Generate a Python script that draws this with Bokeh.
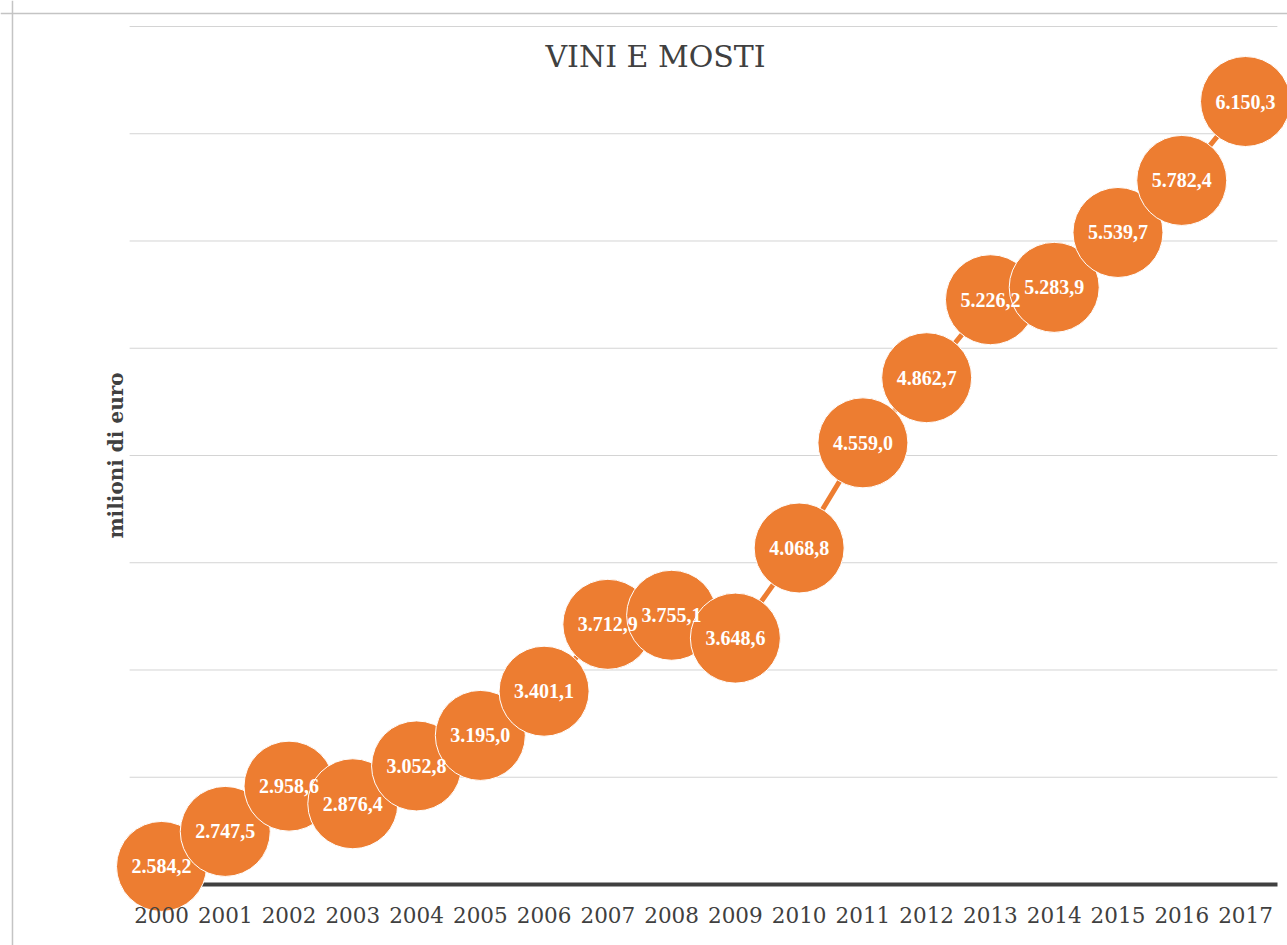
import math
from bokeh.plotting import figure
from bokeh.models import (ColumnDataSource, Range1d, LinearAxis, FixedTicker,
                          Label, Span)
from bokeh.core.properties import value
from bokeh.embed import file_html
from bokeh.resources import INLINE

# ---- data ----
years = [2000, 2001, 2002, 2003, 2004, 2005, 2006, 2007, 2008,
         2009, 2010, 2011, 2012, 2013, 2014, 2015, 2016, 2017]
values = [2584.2, 2747.5, 2958.6, 2876.4, 3052.8, 3195.0, 3401.1, 3712.9, 3755.1,
          3648.6, 4068.8, 4559.0, 4862.7, 5226.2, 5283.9, 5539.7, 5782.4, 6150.3]
grid_values = [3000, 3500, 4000, 4500, 5000, 5500, 6000, 6500]
axis_base = 2500
title_text = "VINI E MOSTI"
ylabel_text = "milioni di euro"


def it_fmt(v):
    s = f"{v:,.1f}"
    return s.replace(",", "X").replace(".", ",").replace("X", ".")


labels = [it_fmt(v) for v in values]

ORANGE = "#ED7D31"
DARK = "#404040"

W, H = 1287, 945
p = figure(width=W, height=H, output_backend="svg", toolbar_location=None,
           x_axis_type=None, y_axis_type=None,
           x_range=Range1d(1997.4751, 2017.6586),
           y_range=Range1d(2215.6, 6621.2),
           min_border_left=0, min_border_right=0,
           min_border_top=0, min_border_bottom=0)
p.outline_line_color = None
p.background_fill_color = "white"
p.border_fill_color = "white"

# chart-area border (left and top edges visible)
p.add_layout(Span(location=1997.663, dimension="height", line_color="#c4c4c4", line_width=1.5))
p.add_layout(Span(location=6560.6, dimension="width", line_color="#c4c4c4", line_width=1.5))

# horizontal gridlines
n = len(grid_values)
p.segment(x0=[years[0] - 0.5] * n, x1=[years[-1] + 0.5] * n,
          y0=grid_values, y1=grid_values, line_color="#d4d4d4", line_width=1)

bounds = (years[0] - 0.5, years[-1] + 0.5)

# x axis line (under the markers), no ticks / labels
xline = LinearAxis(fixed_location=axis_base, bounds=bounds)
xline.ticker = FixedTicker(ticks=[])
xline.axis_line_color = DARK
xline.axis_line_width = 4
xline.major_tick_line_color = None
xline.minor_tick_line_color = None
xline.level = "underlay"
p.add_layout(xline, "below")

# x axis tick labels (above the markers)
xaxis = LinearAxis(fixed_location=axis_base, bounds=bounds)
xaxis.ticker = FixedTicker(ticks=years)
xaxis.major_label_overrides = {y: str(y) for y in years}
xaxis.axis_line_color = None
xaxis.major_tick_line_color = None
xaxis.minor_tick_line_color = None
xaxis.major_tick_out = 0
xaxis.major_tick_in = 0
xaxis.major_label_standoff = 23
xaxis.major_label_text_font = "DejaVu Serif"
xaxis.major_label_text_font_size = "21.5px"
xaxis.major_label_text_color = DARK
xaxis.level = "overlay"
p.add_layout(xaxis, "below")

src = ColumnDataSource(dict(x=years, y=values, label=labels))

p.line("x", "y", source=src, line_color=ORANGE, line_width=5)
p.scatter("x", "y", source=src, size=90, fill_color=ORANGE,
          line_color="white", line_width=1)
p.text("x", "y", text="label", source=src, text_color="white",
       text_font=value("Liberation Serif"), text_font_style="bold",
       text_font_size="20px", text_align="center", text_baseline="middle")

p.add_layout(Label(x=2007.748, y=6360, text=title_text, text_align="center",
                   text_baseline="middle", text_font="DejaVu Serif",
                   text_font_size="30px", text_color=DARK))
p.add_layout(Label(x=1999.279, y=4500, text=ylabel_text, angle=math.pi / 2,
                   text_align="center", text_baseline="middle",
                   text_font="DejaVu Serif", text_font_style="bold",
                   text_font_size="20px", text_color=DARK))

open("out.html", "w").write(file_html(p, INLINE))
